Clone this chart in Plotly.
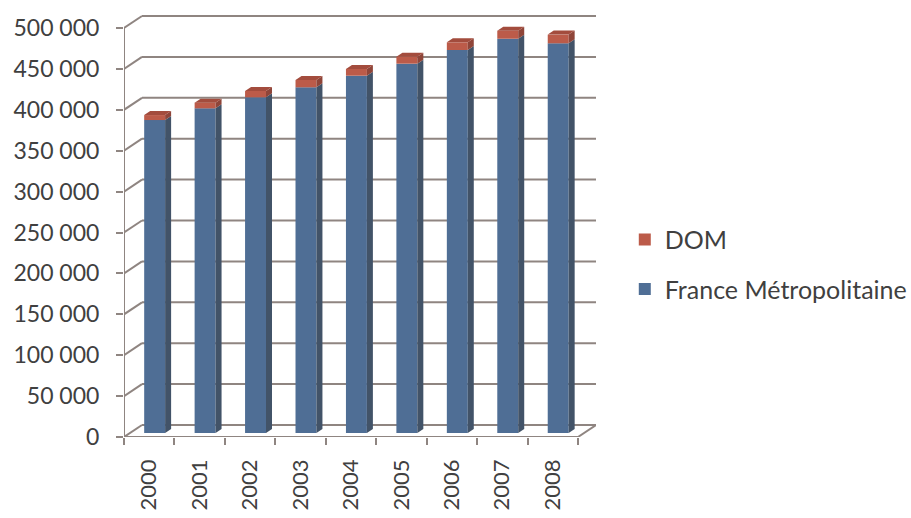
import plotly.graph_objects as go

years = ["2000", "2001", "2002", "2003", "2004", "2005", "2006", "2007", "2008"]
metro = [382600, 396900, 410400, 422600, 436800, 451500, 468200, 482000, 476400]
dom = [6100, 6970, 7700, 8920, 8190, 8560, 9410, 9780, 10630]
ytick_vals = [0, 50000, 100000, 150000, 200000, 250000, 300000, 350000, 400000, 450000, 500000]

# 3D-look styling parameters
DX = 0.357      # depth shift of back wall, x units
DY = 14670      # depth shift of back wall, y units
BW = 0.415      # bar width
BOFF = -0.1     # bar offset
GRID = "#8f8581"
TXT = "#404040"
FONT = "Lato, Calibri, Carlito, sans-serif"

BLUE_F, BLUE_S = "#4f6e95", "#425368"
RED_F, RED_S, RED_T = "#bc5b49", "#8f4539", "#a34c3d"

n = len(years)
xs = list(range(n))
ddx, ddy = DX / 3, DY / 3

fig = go.Figure()

fig.add_trace(go.Bar(x=xs, y=metro, base=[ddy] * n, width=BW, offset=BOFF,
                     marker=dict(color=BLUE_F, line=dict(width=0)),
                     name="France Métropolitaine", legendgroup="a", legendrank=2))
fig.add_trace(go.Bar(x=xs, y=dom, base=[ddy + m for m in metro], width=BW, offset=BOFF,
                     marker=dict(color=RED_F, line=dict(width=0)),
                     name="DOM", legendgroup="b", legendrank=1))

# side and top faces derived from data
def side(b0list, b1list):
    px, py = [], []
    for i in range(n):
        xr = i + BOFF + BW
        b0, b1 = b0list[i], b1list[i]
        px += [xr, xr + ddx, xr + ddx, xr, None]
        py += [b0, b0 + ddy, b1 + ddy, b1, None]
    return px, py

b0 = [ddy] * n
b1 = [ddy + m for m in metro]
b2 = [ddy + m + d for m, d in zip(metro, dom)]

sx, sy = side(b0, b1)
fig.add_trace(go.Scatter(x=sx, y=sy, fill="toself", fillcolor=BLUE_S, mode="lines",
                         line=dict(width=0), showlegend=False, hoverinfo="skip"))
sx, sy = side(b1, b2)
fig.add_trace(go.Scatter(x=sx, y=sy, fill="toself", fillcolor=RED_S, mode="lines",
                         line=dict(width=0), showlegend=False, hoverinfo="skip"))
tx, ty = [], []
for i in range(n):
    xl = i + BOFF
    xr = xl + BW
    t = b2[i]
    tx += [xl, xl + ddx, xr + ddx, xr, None]
    ty += [t, t + ddy, t + ddy, t, None]
fig.add_trace(go.Scatter(x=tx, y=ty, fill="toself", fillcolor=RED_T, mode="lines",
                         line=dict(width=0), showlegend=False, hoverinfo="skip"))

# back wall gridlines with diagonals
x0 = -0.5
x_end = n - 0.5 + DX
shapes = []
for v in ytick_vals:
    shapes.append(dict(type="line", xref="x", yref="y", x0=x0, y0=v, x1=x0 + DX, y1=v + DY,
                       line=dict(color=GRID, width=2), layer="below"))
    shapes.append(dict(type="line", xref="x", yref="y", x0=x0 + DX, y0=v + DY, x1=x_end, y1=v + DY,
                       line=dict(color=GRID, width=2), layer="below"))
# left axis line (front)
shapes.append(dict(type="line", xref="x", yref="y", x0=x0, y0=0, x1=x0, y1=ytick_vals[-1],
                   line=dict(color=GRID, width=2), layer="below"))
# floor front edge and right diagonal
shapes.append(dict(type="line", xref="x", yref="y", x0=x0, y0=0, x1=n - 0.5, y1=0,
                   line=dict(color=GRID, width=2), layer="below"))
shapes.append(dict(type="line", xref="x", yref="y", x0=n - 0.5, y0=0, x1=x_end, y1=DY,
                   line=dict(color=GRID, width=2), layer="below"))

fig.update_layout(
    width=911, height=518,
    margin=dict(l=124, r=911 - 596, t=15, b=81, autoexpand=False),
    paper_bgcolor="white", plot_bgcolor="white",
    barmode="overlay",
    separators=". ",
    font=dict(family=FONT, size=23, color=TXT),
    shapes=shapes,
    showlegend=True,
    legend=dict(x=1.061, y=0.522, xanchor="left", yanchor="top",
                traceorder="grouped", tracegroupgap=14,
                font=dict(family=FONT, size=25, color=TXT), bgcolor="rgba(0,0,0,0)"),
    xaxis=dict(range=[x0, x_end], tickvals=xs, ticktext=years, tickangle=-90,
               ticks="", showgrid=False, zeroline=False, showline=False, automargin=False,
               ticklabelstandoff=17, tickfont=dict(family=FONT, size=22, color=TXT)),
    xaxis2=dict(range=[x0, x_end], overlaying="x", anchor="y", side="bottom",
                tickvals=[i - 0.5 for i in range(n + 1)], showticklabels=False,
                ticks="outside", ticklen=7, tickwidth=2, tickcolor=GRID, automargin=False,
                showgrid=False, zeroline=False, showline=False),
    yaxis=dict(range=[0, 515900], tickvals=ytick_vals, tickformat=",d",
               ticks="outside", ticklen=7, tickwidth=2, tickcolor=GRID, automargin=False,
               showgrid=False, zeroline=False, showline=False,
               ticklabelstandoff=12, tickfont=dict(family=FONT, size=23, color=TXT)),
)
# dummy invisible trace to activate xaxis2
fig.add_trace(go.Scatter(x=[x0], y=[0], xaxis="x2", mode="markers", marker=dict(opacity=0),
                         showlegend=False, hoverinfo="skip"))

fig.write_html("out.html")
